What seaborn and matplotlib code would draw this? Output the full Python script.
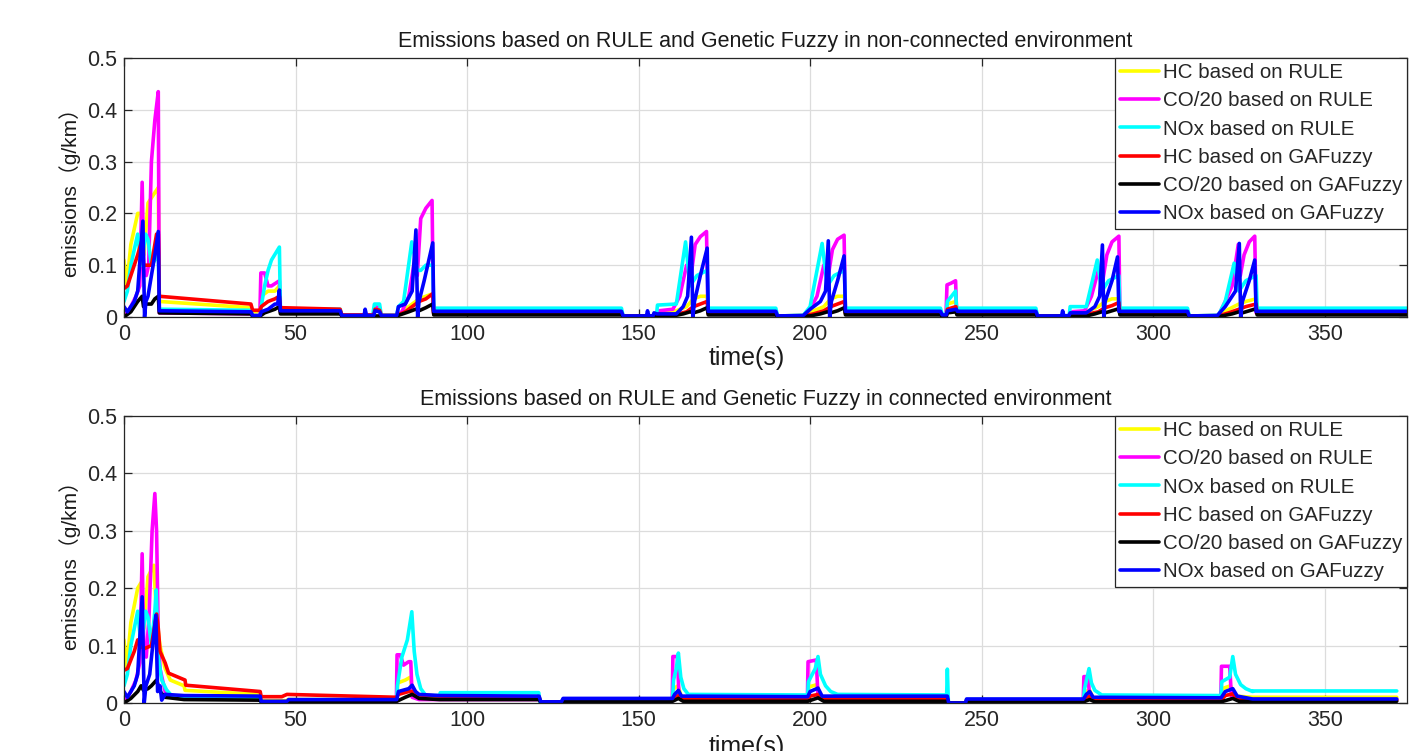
# -*- coding UTF-8 -*-
# Emissions based on RULE and Genetic Fuzzy (non-connected / connected)
import matplotlib.pyplot as plt
import numpy as np
import pandas as pd
import seaborn as sns

sns.set_theme(style="whitegrid")
plt.rcParams['font.family'] = ['Liberation Sans', 'Noto Sans CJK SC', 'DejaVu Sans']
plt.rcParams['axes.unicode_minus'] = False

labels = ['HC based on RULE', 'CO/20 based on RULE', 'NOx based on RULE',
          'HC based on GAFuzzy', 'CO/20 based on GAFuzzy', 'NOx based on GAFuzzy']
colors = ['#ffff00', '#ff00ff', '#00ffff', '#ff0000', '#000000', '#0000ff']
titles = ['Emissions based on RULE and Genetic Fuzzy in non-connected environment',
          'Emissions based on RULE and Genetic Fuzzy in connected environment']
x_ticks = [0, 50, 100, 150, 200, 250, 300, 350]
y_ticks = [0, 0.1, 0.2, 0.3, 0.4, 0.5]

# ---- non-connected (time s, g/km) ----
hc_rule_nc = [(0,0.11),(0.8,0.06),(2,0.14),(3,0.17),(4,0.2),(5,0.2),(5.8,0.12),(7,0.22),(8.5,0.235),(10,0.25),(10.3,0.03),
              (37,0.018),(37.5,0.01),(39.7,0.01),(40,0.04),(42,0.05),(44,0.05),(45.3,0.06),(45.6,0.013),(63,0.013),(63.5,0.003),
              (72.8,0.003),(73.2,0.02),(74.5,0.018),(75,0.003),(79.5,0.003),(82,0.015),(84,0.025),(86,0.035),(88,0.04),(90,0.045),
              (90.3,0.012),(145,0.012),(145.5,0.002),(155.5,0.002),(156,0.01),(161,0.012),(164,0.02),(166,0.035),(168,0.04),
              (170,0.04),(170.3,0.012),(190,0.012),(190.5,0.002),(198,0.003),(201,0.012),(204,0.02),(206,0.035),(208,0.04),
              (210,0.04),(210.3,0.012),(238,0.012),(238.5,0.004),(239.7,0.004),(240,0.025),(242.5,0.03),(242.8,0.012),
              (265.8,0.012),(266.3,0.002),(275.5,0.002),(276,0.01),(280.5,0.01),(284,0.02),(286,0.03),(288,0.035),(290,0.035),
              (290.3,0.012),(310,0.012),(310.5,0.002),(319,0.003),(322,0.015),(325,0.025),(327,0.03),(330,0.035),(330.3,0.012),
              (374,0.012)]
co_rule_nc = [(0,0.0),(2,0.02),(3.5,0.04),(4.6,0.06),(5.3,0.26),(5.8,0.09),(6.5,0.08),(7.2,0.1),(8,0.3),(9,0.38),(10,0.435),
              (10.3,0.008),(37,0.006),(37.5,0.002),(39.6,0.002),(39.9,0.085),(41,0.085),(42,0.06),(43,0.06),(45.3,0.07),
              (45.6,0.01),(63,0.01),(63.5,0.002),(72.8,0.002),(73.2,0.02),(74.5,0.018),(75,0.002),(79.5,0.002),(81,0.01),
              (83,0.04),(84.5,0.1),(85.5,0.08),(86.5,0.19),(88,0.21),(89.8,0.225),(90.2,0.008),(145,0.008),(145.5,0.001),
              (155.5,0.001),(156,0.012),(160,0.015),(162,0.04),(164,0.1),(165.3,0.08),(166.5,0.14),(168,0.155),(169.8,0.165),
              (170.2,0.008),(190,0.008),(190.5,0.001),(198,0.002),(200,0.015),(202,0.04),(204,0.1),(205.3,0.08),(206.5,0.13),
              (208,0.15),(209.9,0.158),(210.3,0.008),(238,0.008),(238.5,0.002),(239.6,0.002),(239.9,0.062),(241,0.065),
              (242.4,0.07),(242.7,0.008),(265.8,0.008),(266.3,0.001),(275.5,0.001),(276,0.01),(280,0.012),(282,0.04),
              (284,0.09),(285.3,0.07),(286.5,0.12),(288,0.145),(290,0.156),(290.3,0.008),(310,0.008),(310.5,0.001),
              (319,0.002),(321,0.03),(323,0.06),(324.8,0.14),(325.4,0.08),(326.5,0.12),(328,0.145),(329.6,0.156),(330,0.008),
              (374,0.008)]
nox_rule_nc = [(0,0.03),(1,0.05),(2,0.1),(3,0.13),(4,0.16),(5,0.1),(6.3,0.16),(7,0.15),(8,0.1),(9,0.11),(10,0.12),
               (10.3,0.015),(37,0.013),(37.5,0.0),(39.7,0.0),(40,0.02),(41,0.06),(42,0.09),(43,0.11),(45.3,0.135),
               (45.6,0.015),(63,0.015),(63.5,0.003),(72.5,0.003),(73,0.025),(74.5,0.025),(75,0.003),(79.5,0.003),(80,0.02),
               (81.5,0.03),(83.9,0.145),(85.5,0.09),(86.5,0.09),(88,0.1),(90,0.1),(90.3,0.017),(145,0.017),(145.5,0.002),
               (155.2,0.002),(155.5,0.023),(161,0.025),(163.7,0.145),(165,0.06),(167,0.08),(170,0.09),(170.3,0.017),
               (190,0.017),(190.5,0.002),(198,0.003),(200,0.02),(203.5,0.142),(205,0.06),(207,0.08),(210,0.09),(210.3,0.017),
               (238,0.017),(238.5,0.005),(239.7,0.005),(240,0.03),(242.4,0.05),(242.7,0.017),(265.8,0.017),(266.3,0.002),
               (275.5,0.002),(275.8,0.02),(280.5,0.02),(283.7,0.11),(285,0.05),(287,0.07),(290,0.08),(290.3,0.017),
               (310,0.017),(310.5,0.002),(319,0.003),(321,0.03),(323.6,0.104),(325,0.05),(327,0.07),(330,0.08),(330.3,0.017),
               (374,0.017)]
hc_ga_nc = [(0,0.055),(1,0.06),(3,0.1),(4,0.12),(5.3,0.15),(5.7,0.1),(8,0.1),(9.5,0.16),(10,0.16),(10.3,0.04),(37,0.025),
            (37.5,0.013),(39.7,0.013),(40,0.02),(42,0.03),(44,0.035),(45.3,0.04),(45.6,0.018),(63,0.015),(63.5,0.004),
            (72.8,0.004),(73.2,0.015),(74.5,0.013),(75,0.003),(79.5,0.003),(82,0.01),(84,0.02),(86,0.03),(88,0.035),(90,0.045),
            (90.3,0.007),(145,0.007),(145.5,0.002),(155.5,0.002),(156,0.005),(161,0.005),(164,0.01),(166,0.02),(168,0.025),
            (170,0.03),(170.3,0.007),(190,0.007),(190.5,0.002),(198,0.002),(201,0.006),(204,0.012),(206,0.02),(208,0.025),
            (210,0.03),(210.3,0.007),(238,0.007),(238.5,0.002),(239.7,0.002),(240,0.015),(242.5,0.02),(242.8,0.007),
            (265.8,0.007),(266.3,0.002),(275.5,0.002),(276,0.005),(280.5,0.005),(284,0.01),(286,0.018),(288,0.022),(290,0.028),
            (290.3,0.007),(310,0.007),(310.5,0.002),(319,0.002),(322,0.008),(325,0.015),(327,0.02),(330,0.025),(330.3,0.007),
            (374,0.007)]
co_ga_nc = [(0,0.0),(2,0.01),(4,0.03),(5.3,0.04),(5.7,0.02),(6.2,0.025),(8,0.025),(9,0.035),(10,0.04),(10.3,0.008),(37,0.006),
            (37.5,0.002),(39.7,0.002),(41,0.008),(44,0.015),(45.3,0.02),(45.6,0.006),(63,0.006),(63.5,0.002),(79.5,0.002),
            (83,0.01),(85,0.015),(86,0.012),(88,0.018),(90,0.025),(90.3,0.004),(145,0.004),(145.5,0.001),(160,0.002),(163,0.006),
            (165,0.01),(166,0.008),(168,0.012),(170,0.018),(170.3,0.004),(190,0.004),(190.5,0.001),(200,0.002),(203,0.006),
            (205,0.01),(206,0.008),(208,0.012),(210,0.018),(210.3,0.004),(238,0.004),(238.5,0.001),(239.7,0.001),(240,0.008),
            (242.5,0.01),(242.8,0.004),(265.8,0.004),(266.3,0.001),(280.5,0.002),(283,0.006),(285,0.01),(286,0.008),(288,0.012),
            (290,0.016),(290.3,0.004),(310,0.004),(310.5,0.001),(320,0.002),(323,0.006),(325,0.01),(326,0.008),(328,0.012),
            (330,0.016),(330.3,0.004),(374,0.004)]
nox_ga_nc = [(0,0.02),(1,0.01),(3,0.03),(4,0.05),(5.5,0.185),(6,0.0),(6.4,0.03),(7,0.04),(9,0.12),(10,0.165),(10.3,0.012),
             (37,0.01),(37.5,0.003),(39.7,0.003),(40,0.01),(42,0.015),(44,0.025),(44.8,0.025),(45.3,0.052),(45.6,0.012),
             (63,0.012),(63.5,0.003),(70,0.003),(70.3,0.015),(70.7,0.003),(72.8,0.003),(73.2,0.012),(74.5,0.01),(75,0.003),
             (79.5,0.003),(80,0.02),(82,0.025),(84,0.05),(85.1,0.168),(85.6,0.0),(86,0.03),(87.5,0.07),(90,0.143),(90.3,0.011),
             (145,0.011),(145.5,0.002),(152.3,0.002),(152.6,0.012),(153,0.002),(154.2,0.002),(154.5,0.008),(155.3,0.006),
             (161,0.006),(163,0.02),(164.3,0.04),(165.4,0.154),(165.8,0.0),(166.3,0.03),(168,0.08),(170,0.133),(170.3,0.011),
             (190,0.011),(190.5,0.002),(198,0.003),(200,0.015),(203,0.03),(204.5,0.05),(205.3,0.147),(205.7,0.0),(206.2,0.03),
             (208,0.07),(209.9,0.118),(210.3,0.011),(238,0.011),(238.5,0.004),(239.7,0.004),(240,0.012),(242.6,0.015),
             (242.9,0.011),(265.8,0.011),(266.3,0.002),(273.3,0.002),(273.6,0.012),(274,0.002),(275.5,0.003),(275.8,0.008),
             (280.5,0.008),(283,0.02),(284.4,0.04),(285.2,0.139),(285.6,0.0),(286,0.03),(288,0.07),(289.6,0.116),(290,0.011),
             (310,0.011),(310.5,0.002),(318.7,0.003),(321,0.02),(324,0.05),(325.1,0.142),(325.5,0.0),(326,0.03),(328,0.07),
             (329.6,0.11),(330,0.011),(374,0.011)]

# ---- connected ----
hc_rule_c = [(0,0.11),(0.8,0.06),(2,0.14),(3,0.17),(4,0.2),(5,0.21),(5.8,0.13),(7,0.22),(8.7,0.24),(9.5,0.15),(10.5,0.1),
             (12,0.06),(13.5,0.04),(17.5,0.03),(17.8,0.022),(39.7,0.015),(40,0.004),(47.5,0.004),(47.8,0.006),(79.5,0.006),
             (79.8,0.035),(82,0.04),(83.5,0.045),(84,0.02),(86,0.01),(121,0.01),(121.5,0.001),(127.5,0.001),(128,0.005),
             (159.9,0.005),(160.2,0.025),(161.5,0.03),(162.5,0.01),(199.3,0.01),(199.6,0.028),(202,0.032),(203,0.01),
             (240,0.01),(240.4,0.0),(245.3,0.0),(245.6,0.005),(279.7,0.005),(280,0.02),(281.5,0.022),(282.5,0.008),
             (319.8,0.008),(320.1,0.025),(322.5,0.03),(324,0.012),(329,0.01),(371,0.01)]
co_rule_c = [(0,0.0),(2,0.02),(3.5,0.04),(4.6,0.07),(5.3,0.26),(5.8,0.09),(6.5,0.08),(7.3,0.15),(8.2,0.3),(9,0.365),(9.5,0.3),
             (10,0.12),(10.5,0.06),(12,0.02),(14,0.01),(17.5,0.008),(39.7,0.006),(40,0.001),(79.4,0.001),(79.6,0.084),
             (80.5,0.084),(81.5,0.066),(83,0.072),(83.6,0.072),(84,0.01),(86,0.006),(121,0.006),(121.5,0.0),(127.5,0.0),
             (128,0.004),(159.8,0.004),(160,0.081),(161.3,0.081),(161.8,0.01),(164,0.005),(199.2,0.005),(199.4,0.072),
             (201.8,0.075),(202.3,0.01),(204,0.005),(240,0.005),(240.4,0.0),(245.3,0.0),(245.6,0.004),(279.6,0.004),
             (279.8,0.046),(281,0.046),(281.5,0.01),(283,0.005),(319.7,0.005),(319.9,0.064),(322.3,0.064),(322.8,0.012),
             (325,0.006),(371,0.006)]
nox_rule_c = [(0,0.03),(1,0.05),(2,0.1),(3,0.13),(4,0.16),(5,0.1),(6.3,0.16),(7,0.15),(8,0.1),(9,0.16),(9.4,0.197),(10,0.08),
              (11,0.04),(12.4,0.023),(14,0.012),(17.5,0.009),(39.7,0.008),(40,0.001),(47.5,0.001),(48,0.004),(79.5,0.004),
              (79.7,0.03),(81,0.08),(82.6,0.11),(83.9,0.159),(84.6,0.09),(85.4,0.05),(86.5,0.025),(88,0.013),(92,0.013),
              (92.2,0.018),(120.9,0.018),(121.3,0.0),(127.5,0.0),(128,0.007),(159.9,0.007),(160.2,0.04),(161,0.06),
              (161.6,0.087),(162.3,0.045),(163.2,0.025),(164.5,0.015),(199.3,0.014),(199.5,0.037),(201.5,0.06),(202.3,0.081),
              (203,0.05),(204.5,0.03),(206,0.02),(208,0.015),(239.8,0.014),(240,0.059),(240.3,0.0),(245.3,0.0),(245.6,0.006),
              (279.7,0.006),(280,0.025),(281.3,0.06),(282,0.035),(283,0.022),(285,0.014),(319.8,0.013),(320,0.037),
              (322.3,0.045),(323.2,0.081),(324,0.05),(325.5,0.032),(327,0.025),(329,0.02),(329.1,0.021),(371,0.021)]
hc_ga_c = [(0,0.057),(1,0.06),(3,0.09),(4,0.11),(5,0.098),(6,0.095),(8,0.1),(9.5,0.155),(10,0.13),(10.5,0.09),(12,0.07),
           (13,0.052),(17.8,0.04),(18,0.031),(39.7,0.02),(40,0.011),(46,0.011),(47.5,0.015),(79.5,0.01),(80,0.015),(83,0.02),
           (84,0.02),(86,0.014),(92,0.012),(121,0.01),(121.5,0.002),(127.5,0.002),(128,0.005),(159.9,0.005),(160.5,0.01),
           (161.6,0.013),(163,0.007),(199.3,0.007),(200,0.012),(202.3,0.015),(204,0.008),(240,0.008),(240.4,0.0),(245.3,0.0),
           (245.6,0.005),(279.7,0.005),(280.5,0.01),(281.5,0.011),(283,0.005),(319.8,0.005),(321,0.013),(323.2,0.016),
           (325,0.006),(371,0.005)]
co_ga_c = [(0,0.0),(2,0.008),(4,0.02),(5,0.03),(5.7,0.022),(7,0.025),(8,0.03),(9.5,0.04),(10.5,0.02),(12,0.01),(17.5,0.006),
           (39.7,0.005),(40,0.002),(79.5,0.003),(82,0.01),(84,0.015),(86,0.008),(92,0.006),(121,0.006),(121.5,0.001),
           (128,0.001),(128.5,0.003),(159.9,0.003),(161.6,0.008),(163,0.003),(199.3,0.003),(202.3,0.009),(204,0.003),
           (240,0.003),(240.4,0.0),(245.3,0.0),(245.6,0.002),(279.7,0.002),(281.5,0.006),(283,0.002),(319.8,0.002),
           (323.2,0.008),(325,0.003),(371,0.003)]
nox_ga_c = [(0,0.02),(1,0.01),(3,0.03),(4,0.05),(5.3,0.185),(5.9,0.0),(6.4,0.03),(7.5,0.05),(9.3,0.153),(9.8,0.02),
            (10.5,0.03),(11,0.005),(12,0.015),(17.5,0.013),(39.7,0.012),(40,0.003),(47.5,0.003),(48,0.006),(79.5,0.006),
            (80,0.02),(83,0.025),(84,0.031),(85,0.02),(86,0.015),(92,0.013),(121,0.012),(121.5,0.002),(127.5,0.002),
            (128,0.008),(159.9,0.008),(160.5,0.015),(161.6,0.022),(162.5,0.012),(199.3,0.011),(200,0.02),(202.3,0.026),
            (203.5,0.012),(240,0.012),(240.4,0.0),(245.3,0.0),(245.6,0.007),(279.7,0.007),(280.5,0.015),(281.5,0.02),
            (282.5,0.01),(319.8,0.009),(321,0.02),(323.2,0.025),(324.5,0.012),(329,0.007),(371,0.007)]

panels = [[hc_rule_nc, co_rule_nc, nox_rule_nc, hc_ga_nc, co_ga_nc, nox_ga_nc],
          [hc_rule_c, co_rule_c, nox_rule_c, hc_ga_c, co_ga_c, nox_ga_c]]

fig = plt.figure(figsize=(14.12, 7.51), dpi=100)
axes = [fig.add_axes([0.0878, 0.5779, 0.9087, 0.3449]),
        fig.add_axes([0.0878, 0.0639, 0.9087, 0.3821])]

for ax, series, title in zip(axes, panels, titles):
    rows = []
    for lab, pts in zip(labels, series):
        for t, v in pts:
            rows.append((t, v, lab))
    df = pd.DataFrame(rows, columns=['time', 'emissions', 'series'])
    sns.lineplot(data=df, x='time', y='emissions', hue='series', hue_order=labels,
                 palette=colors, estimator=None, sort=False, linewidth=2.6, legend=False, ax=ax)
    ax.set_xlim(0, 374)
    ax.set_ylim(0, 0.5)
    ax.set_xticks(x_ticks)
    ax.set_yticks(y_ticks)
    ax.set_yticklabels(['0', '0.1', '0.2', '0.3', '0.4', '0.5'])
    ax.set_facecolor('white')
    ax.grid(True, color='#dcdcdc', linewidth=0.9)
    for s in ax.spines.values():
        s.set_color('#262626')
        s.set_linewidth(0.9)
        s.set_visible(True)
    ax.tick_params(direction='in', top=True, right=True, length=6, width=0.9,
                   colors='#262626', labelsize=15.5, pad=5, bottom=True, left=True)
    ax.set_title(title, fontsize=15.5, color='#1a1a1a', pad=8)
    ax.set_xlabel('time(s)', fontsize=18, color='#1a1a1a')
    ax.xaxis.set_label_coords(0.485, -0.112)
    ax.set_ylabel('emissions（g/km）', fontsize=15, color='#1a1a1a', labelpad=5)
    leg = ax.legend(handles=ax.lines[:6], labels=labels, loc='upper right', borderaxespad=0,
                    fancybox=False, framealpha=1, edgecolor='#262626', fontsize=14.8,
                    handlelength=1.9, handletextpad=0.15, labelspacing=0.45, borderpad=0.25)
    leg.get_frame().set_linewidth(0.9)

fig.savefig('out.png', dpi=100)
